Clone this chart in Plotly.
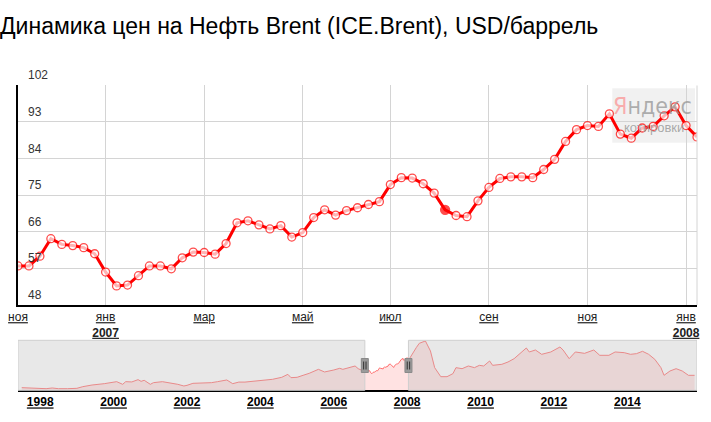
import pandas as pd
import plotly.graph_objects as go

# weekly quotes in the zoomed window (Mondays, Nov 2006 - Jan 2008)
week_dates = pd.date_range("2006-11-06", periods=63, freq="7D").strftime("%Y-%m-%d").tolist()
brent_values = [57.6, 57.6, 60.0, 64.3, 62.9, 62.6, 62.1, 60.6, 56.1, 52.7,
                52.9, 55.2, 57.6, 57.6, 56.9, 59.6, 61.0, 60.9, 60.5, 63.1,
                68.2, 68.7, 67.7, 66.7, 67.5, 64.7, 65.8, 69.5, 71.4, 70.1,
                71.2, 71.9, 72.7, 73.4, 77.6, 79.3, 79.2, 77.8, 75.5, 71.4,
                70.0, 69.7, 73.6, 76.9, 79.1, 79.5, 79.5, 79.3, 81.3, 83.8,
                88.2, 91.1, 92.1, 91.9, 95.0, 90.0, 89.0, 91.5, 91.9, 94.5,
                96.7, 92.1, 89.3]
hover_idx = 39

month_ticks = ["2006-11-06", "2007-01-01", "2007-03-05", "2007-05-07",
               "2007-07-02", "2007-09-03", "2007-11-05", "2008-01-07"]
month_labels = ["ноя", "янв", "мар", "май", "июл", "сен", "ноя", "янв"]
year_labels = ["", "2007", "", "", "", "", "", "2008"]

y_ticks = [48, 57, 66, 75, 84, 93, 102]

# navigator (whole history), outside of the selected window
nav_before_dates = ["1997-07", "1997-12", "1998-03", "1998-05", "1998-07", "1998-10",
                    "1999-01", "1999-03", "1999-04", "1999-06", "1999-10", "2000-01",
                    "2000-02", "2000-04", "2000-05", "2000-07", "2000-09", "2000-10",
                    "2000-11", "2001-01", "2001-02", "2001-05", "2001-07", "2001-10",
                    "2001-12", "2002-01", "2002-03", "2002-06", "2002-09", "2002-11",
                    "2003-01", "2003-02", "2003-04", "2003-06", "2003-08", "2003-11",
                    "2004-02", "2004-05", "2004-08", "2004-10", "2004-11", "2005-01",
                    "2005-03", "2005-05", "2005-08", "2005-10", "2006-01", "2006-03",
                    "2006-04", "2006-06", "2006-08", "2006-09"]
nav_before_values = [14.8, 13.9, 12.0, 13.9, 12.0, 12.0,
                     13.0, 17.5, 19.3, 22.0, 25.7, 28.4,
                     31.1, 23.9, 31.1, 30.4, 36.6, 32.0,
                     34.8, 23.9, 28.4, 31.1, 28.4, 23.9,
                     19.3, 21.1, 26.6, 26.6, 28.4, 31.1,
                     33.8, 35.7, 25.7, 30.0, 30.0, 32.0,
                     33.8, 37.5, 43.0, 51.1, 42.0, 43.0,
                     48.4, 53.8, 64.7, 57.5, 62.9, 67.5,
                     64.7, 70.2, 73.8, 66.5]
nav_after_dates = ["2008-04", "2008-05", "2008-07", "2008-08-20", "2008-10", "2008-12",
                   "2009-02", "2009-04", "2009-05", "2009-07", "2009-09", "2009-11",
                   "2009-12-20", "2010-02", "2010-04", "2010-05", "2010-08", "2010-10",
                   "2010-12", "2011-02", "2011-04", "2011-05", "2011-07", "2011-09",
                   "2011-12", "2012-03", "2012-04", "2012-06", "2012-08", "2012-11",
                   "2013-02", "2013-04", "2013-07", "2013-09", "2013-12", "2014-02",
                   "2014-04", "2014-06", "2014-08", "2014-10", "2014-12", "2015-01",
                   "2015-03", "2015-05", "2015-07", "2015-09", "2015-11"]
nav_after_values = [123.8, 135.6, 141.9, 114.7, 69.3, 44.7,
                    44.7, 53.0, 69.3, 66.5, 73.8, 69.3,
                    75.6, 73.8, 87.4, 75.6, 78.4, 84.7,
                    93.8, 110.1, 122.9, 112.0, 117.4, 105.6,
                    112.0, 125.6, 117.4, 93.8, 112.0, 108.3,
                    117.4, 102.9, 102.9, 112.0, 110.1, 105.6,
                    107.4, 113.8, 105.6, 92.0, 69.3, 48.4,
                    60.2, 66.5, 60.2, 48.4, 48.4]
nav_years = [1998, 2000, 2002, 2004, 2006, 2008, 2010, 2012, 2014]
nav_range = ["1997-05-25", "2015-11-25"]

FONT = "Arial, Liberation Sans, sans-serif"

tick_text = []
for m, y in zip(month_labels, year_labels):
    t = "<u>" + m + "</u>"
    if y:
        t += "<br><b><u>" + y + "</u></b>"
    tick_text.append(t)

marker_colors = ["white"] * len(brent_values)
marker_sizes = [8] * len(brent_values)
marker_colors[hover_idx] = "red"
marker_sizes[hover_idx] = 9

fig = go.Figure()

fig.add_trace(go.Scatter(
    x=week_dates, y=brent_values, mode="lines+markers",
    line=dict(color="#ff0000", width=3),
    marker=dict(size=marker_sizes, color=marker_colors,
                line=dict(color="#ff0000", width=1.3)),
    xaxis="x", yaxis="y", hoverinfo="x+y"))

fig.add_trace(go.Scatter(
    x=nav_before_dates + week_dates + nav_after_dates,
    y=nav_before_values + brent_values + nav_after_values,
    mode="lines", fill="tozeroy",
    line=dict(color="rgb(255,110,110)", width=1),
    fillcolor="rgba(255,160,160,0.3)",
    xaxis="x2", yaxis="y2", hoverinfo="skip"))

main_bottom = 1 - 305 / 422
main_top = 1 - 85.3 / 422
nav_bottom = 1 - 390.3 / 422
nav_top = 1 - 340.3 / 422

fig.update_layout(
    width=711, height=422,
    margin=dict(l=18, r=14, t=0, b=0),
    paper_bgcolor="white", plot_bgcolor="white",
    showlegend=False,
    font=dict(family=FONT, size=12, color="#333"),
    title=dict(text="Динамика цен на Нефть Brent (ICE.Brent), USD/баррель",
               font=dict(family=FONT, size=23, color="black"),
               xref="container", yref="container", x=0, xanchor="left",
               y=1 - 26 / 422, yanchor="middle"),
    xaxis=dict(type="category", range=[0, len(week_dates) - 1],
               tickvals=month_ticks, ticktext=tick_text, ticks="",
               showgrid=True, gridcolor="#d4d4d4", gridwidth=1,
               showline=True, linecolor="black", linewidth=1.5,
               tickfont=dict(size=12, color="#222"), anchor="y"),
    yaxis=dict(domain=[main_bottom, main_top], range=[48, 102],
               tickvals=y_ticks, showticklabels=False, ticks="",
               showgrid=True, gridcolor="#d4d4d4", gridwidth=1, zeroline=False,
               showline=True, linecolor="black", linewidth=1.5),
    xaxis2=dict(type="date", range=nav_range, anchor="y2",
                tickvals=[f"{y}-01-01" for y in nav_years],
                ticktext=[f"<b><u>{y}</u></b>" for y in nav_years],
                ticks="", showgrid=False,
                showline=True, linecolor="black", linewidth=1.5,
                tickfont=dict(size=12, color="black")),
    yaxis2=dict(domain=[nav_bottom, nav_top], range=[7.6, 143.8],
                showticklabels=False, showgrid=False, zeroline=False,
                ticks=""),
)

# y tick labels sit inside the plot, above their grid lines
for v in y_ticks:
    fig.add_annotation(x=0.012, xref="paper", y=v, yref="y", text=str(v),
                       showarrow=False, xanchor="left", yanchor="bottom",
                       yshift=1, font=dict(size=12, color="#333"))

# right border of main plot
fig.add_shape(type="line", xref="paper", yref="y", x0=1, x1=1, y0=48, y1=102,
              line=dict(color="#d4d4d4", width=1))

# Yandex watermark
fig.add_shape(type="rect", xref="paper", yref="paper",
              x0=(612.3 - 18) / 679, x1=(695 - 18) / 679,
              y0=1 - 142.7 / 422, y1=1 - 88.3 / 422,
              fillcolor="rgba(238,238,238,0.85)", line=dict(width=0),
              layer="between")
fig.add_annotation(x=(652 - 18) / 679, xref="paper", y=1 - 106 / 422, yref="paper",
                   text="<span style='color:rgba(255,120,120,0.75)'>Я</span>ндекс",
                   showarrow=False, xanchor="center", yanchor="middle",
                   font=dict(family="Liberation Sans Narrow, DejaVu Sans Condensed, Arial Narrow",
                             size=23, color="rgba(150,150,150,0.75)"))
fig.add_annotation(x=(653.5 - 18) / 679, xref="paper", y=1 - 127.5 / 422, yref="paper",
                   text="котировки", showarrow=False, xanchor="center", yanchor="middle",
                   font=dict(family=FONT, size=13, color="rgba(150,150,150,0.8)"))

# navigator: shaded parts outside the selected window
sel_start, sel_end = week_dates[0], week_dates[-1]
for x0, x1 in [(nav_range[0], sel_start), (sel_end, nav_range[1])]:
    fig.add_shape(type="rect", xref="x2", yref="paper", x0=x0, x1=x1,
                  y0=nav_bottom, y1=nav_top,
                  fillcolor="rgba(190,190,190,0.35)",
                  line=dict(color="#cfcfcf", width=1), layer="above")

# selection handles
for xs in [sel_start, sel_end]:
    fig.add_shape(type="rect", xref="x2", yref="paper", xsizemode="pixel",
                  xanchor=xs, x0=-3.5, x1=3.5,
                  y0=1 - 372.5 / 422, y1=1 - 358.5 / 422,
                  fillcolor="#9a9a9a", line=dict(color="#8a8a8a", width=1),
                  layer="above")
    for dx in [-1.2, 1.2]:
        fig.add_shape(type="line", xref="x2", yref="paper", xsizemode="pixel",
                      xanchor=xs, x0=dx, x1=dx,
                      y0=1 - 369.5 / 422, y1=1 - 361.5 / 422,
                      line=dict(color="#333", width=1), layer="above")

fig.write_html("out.html", config={"displayModeBar": False},
               post_script="document.body.style.margin='0px';")
